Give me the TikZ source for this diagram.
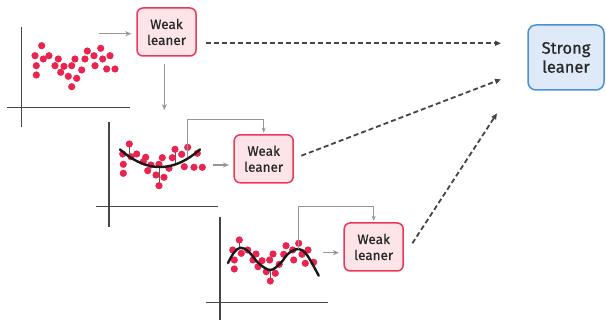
\documentclass[tikz,border=0pt]{standalone}
\usepackage{fontspec}
\setmainfont{Fira Sans}
\newfontfamily\boxfont{Fira Sans}[FakeBold=0.6]
\usetikzlibrary{arrows.meta,calc}

\definecolor{dotred}{RGB}{233,36,78}
\definecolor{weakfill}{RGB}{253,228,232}
\definecolor{weakedge}{RGB}{236,56,88}
\definecolor{strongfill}{RGB}{222,234,247}
\definecolor{strongedge}{RGB}{74,144,217}
\definecolor{axisgray}{RGB}{70,70,70}
\definecolor{flowgray}{RGB}{150,150,150}
\definecolor{dashgray}{RGB}{68,68,68}
\definecolor{labeltext}{RGB}{40,40,40}

\tikzset{
  weak/.style={draw=weakedge, fill=weakfill, line width=1.5pt, rounded corners=6pt,
    minimum width=59pt, minimum height=48pt, inner sep=0pt, align=center,
    text=labeltext, font=\boxfont\fontsize{13.5}{16}\selectfont},
  strong/.style={draw=strongedge, fill=strongfill, line width=1.5pt, rounded corners=8pt,
    minimum width=76pt, minimum height=65pt, inner sep=0pt, align=center,
    text=labeltext, font=\boxfont\fontsize{16.5}{19}\selectfont},
  axisline/.style={draw=axisgray, line width=1.1pt},
  datapt/.style={fill=dotred},
  fitcurve/.style={draw=black!90, line width=2.4pt, line cap=round},
  resid/.style={draw=black!65, line width=0.9pt},
  flow/.style={draw=flowgray, line width=1.4pt, -{Stealth[length=6pt,width=5pt]}},
  feedback/.style={draw=flowgray, line width=1pt, -{Stealth[length=5pt,width=4pt]}},
  vote/.style={draw=dashgray, line width=1.8pt, dash pattern=on 5pt off 3pt,
    -{Triangle[length=6pt,width=5pt]}}
}

\begin{document}
\begin{tikzpicture}[x=1pt, y=-1pt]
\useasboundingbox (0,0) rectangle (606,320);

% ---- learners ----
\node[weak] (w1) at (166.5,32) {Weak\\leaner};
\node[weak] (w2) at (263.7,158.8) {Weak\\leaner};
\node[weak] (w3) at (373.7,247) {Weak\\leaner};
\node[strong] (s) at (566,57.5) {Strong\\leaner};

% ---- axes ----
\draw[axisline] (21.7,26.7) -- (21.7,126.7);
\draw[axisline] (7.3,107.7) -- (130,107.7);
\draw[axisline] (109,121.7) -- (109,226.7);
\draw[axisline] (95.7,206.7) -- (217.7,206.7);
\draw[axisline] (220,216.7) -- (220,320);
\draw[axisline] (206,302.3) -- (328.3,302.3);

% ---- data set 1 ----
\foreach \x/\y in {41.7/45.7, 35/55.7, 43.3/59, 49/55.7, 36.3/65.7, 36.3/75,
  58.3/59, 55/65.7, 60.7/72.3, 64/66.3, 68.3/76.3, 71.7/65.7, 75/59, 71.7/86.7,
  76.7/78.3, 81.7/70, 85/59, 87.3/51, 94/55.7, 100.7/48.3, 102.7/59, 95/65.7,
  110/55.7, 106.7/69, 115/69}
  \fill[datapt] (\x,\y) circle (3.6pt);

% ---- data set 2 with quadratic fit ----
\draw[resid] (129.3,144) -- (129.3,156.7);
\draw[resid] (159,185.7) -- (159,167);
\draw[resid] (175,149.3) -- (175,164.5);
\foreach \x/\y in {129.3/144, 122.7/154, 123.3/164.3, 123.3/173.3, 131/156.7,
  136.7/154, 143.3/161.7, 145.7/157.3, 147.7/170.7, 151/165, 156/175, 159/164.3,
  162.3/157.7, 159/185.7, 164/177.3, 169/168.3, 172.3/157.7, 175/149.3,
  181.7/154.3, 187.7/147.3, 184.3/166.7, 194/167.3, 197.3/153.3, 202.3/167.3}
  \fill[datapt] (\x,\y) circle (3.6pt);
\draw[fitcurve] plot[domain=120:200, samples=40] (\x, {167-0.011*(\x-160)^2});

% ---- data set 3 with wavy fit ----
\draw[resid] (239.3,240) -- (239.3,248);
\draw[resid] (270.3,281) -- (270.3,270);
\foreach \x/\y in {239.3/240, 232.7/250, 234.3/260, 234.3/269, 241.3/253.3,
  247.7/250, 253/260, 256/254, 258/266.7, 262/260.7, 266.3/271.7, 270.3/281,
  269.7/260, 273/254, 275.3/273.3, 279.3/264.3, 283.7/254.3, 286/245.7,
  292.7/250, 298.7/243.3, 293.7/260, 302/254.3, 308/250, 305.3/263.3, 313.7/262.3}
  \fill[datapt] (\x,\y) circle (3.6pt);
\draw[fitcurve] plot[smooth, tension=0.6] coordinates {(228,263) (233.7,253)
  (240.3,247.7) (248.7,251.7) (258.7,263.3) (270.3,270) (280.3,263.3)
  (288.7,253.3) (298.7,249) (307,255) (318.7,275.7)};

% ---- connector end points ----
\coordinate (d1in) at (99.3,33.7);
\coordinate (d1down) at (164.3,110);
\coordinate (d2in) at (213.3,165);
\coordinate (d3in) at (323.3,252.7);
\coordinate (fb2) at (187.7,156.7);
\coordinate (fb2top) at (187.7,119.3);
\coordinate (fb3) at (298.7,249);
\coordinate (fb3top) at (298.7,206.7);
\coordinate (v1) at (501,43.3);
\coordinate (v2) at (501,79.3);
\coordinate (v3) at (497,113.3);

% ---- grey flow arrows ----
\draw[flow, shorten >=5pt] (d1in) -- (w1.west |- d1in);
\draw[flow, shorten <=7pt] (w1.south -| d1down) -- (d1down);
\draw[flow, shorten >=4.5pt] (d2in) -- (w2.west |- d2in);
\draw[flow, shorten >=4.5pt] (d3in) -- (w3.west |- d3in);
\draw[feedback, shorten >=1.5pt] (fb2) -- (fb2top) -| (w2.north);
\draw[feedback, shorten >=1.5pt] (fb3) -- (fb3top) -| (w3.north);

% ---- dashed arrows to the strong learner ----
\draw[vote] ($(w1.east)+(9,11.3)$) -- (v1);
\draw[vote] ($(w2.east)+(7.4,-3.1)$) -- (v2);
\draw[vote] ($(w3.east)+(8.4,-3.7)$) -- (v3);
\end{tikzpicture}
\end{document}
